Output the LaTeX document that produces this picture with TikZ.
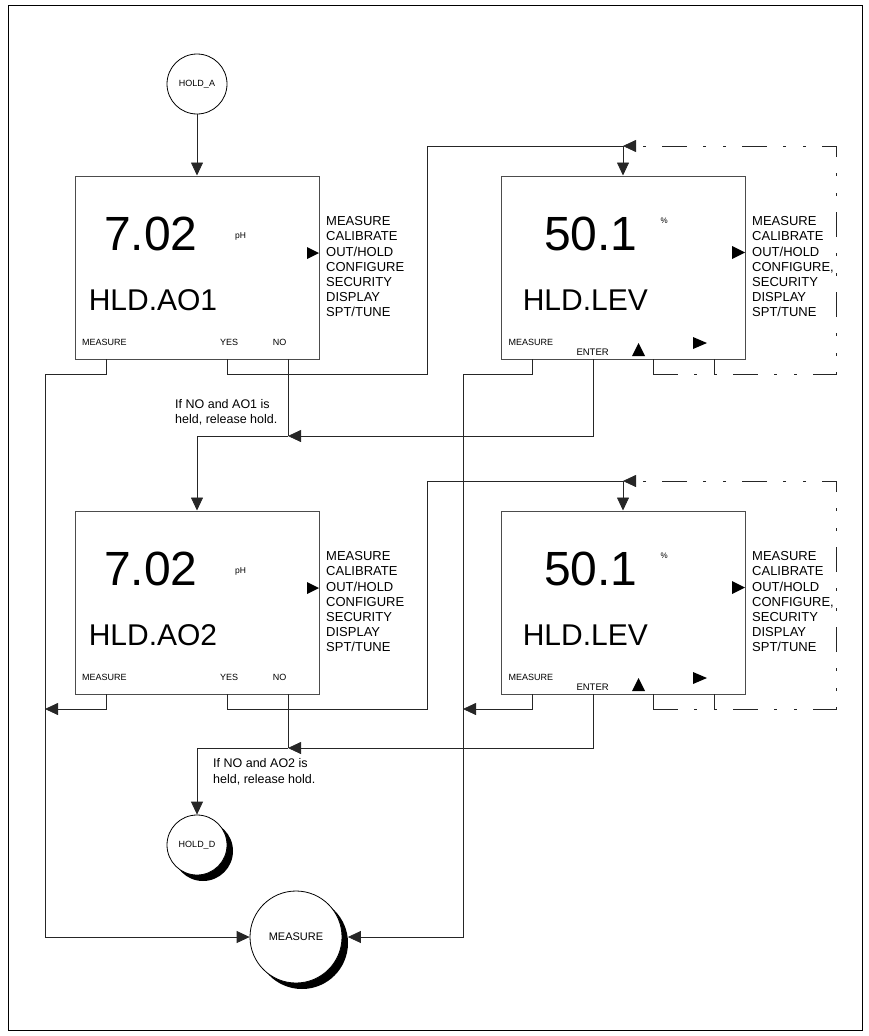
\documentclass[tikz,border=0pt]{standalone}
\usepackage{fontspec}
\setmainfont{Liberation Sans}
\usetikzlibrary{arrows.meta,shadows,calc}
\tikzset{
  screen/.style={draw=black!70,line width=1pt,minimum width=244,
                 minimum height=183,inner sep=0},
  term/.style={circle,draw=black,line width=0.8pt,fill=white,inner sep=0,
               font=\fontsize{9}{10}\selectfont},
  shadowed/.style={drop shadow={shadow xshift=6pt,shadow yshift=-6pt,
                   fill=black,opacity=1}},
  wire/.style={draw=black!85,line width=0.8pt},
  arr/.style={wire,-{Triangle[length=13pt,width=12pt]}},
  ret/.style={dash pattern=on 25pt off 16pt on 3pt off 17pt on 3pt off 16pt},
  pointer/.style={fill=black,draw=none},
}
\begin{document}
\begin{tikzpicture}[
    x=1pt,y=-1pt,
    txt/.style={inner sep=0,anchor=base west},
    bignum/.style={txt,font=\fontsize{48}{50}\selectfont},
    code/.style={txt,font=\fontsize{30}{32}\selectfont},
    menu/.style={txt,font=\fontsize{13}{15}\selectfont},
    softkey/.style={txt,font=\fontsize{9}{10}\selectfont},
    unit/.style={txt,font=\fontsize{8.5}{9}\selectfont},
    note/.style={txt,font=\fontsize{12.5}{15}\selectfont}
  ]
  \useasboundingbox (0,0) rectangle (869,1036);
  \draw[line width=0.8pt] (8,5) rectangle (862,1030);

  % two rows of screens
  \foreach \r/\dy/\ao in {1/0/AO1,2/335/AO2}{
    \node[screen] (ph\r) at (197,{267.5+\dy}) {};
    \node[screen] (lv\r) at (623,{267.5+\dy}) {};

    \node[bignum] (phv\r) at (104,{250+\dy}) {7.02};
    \node[unit] (phu\r) at (235,{238+\dy}) {pH};
    \node[code] (phc\r) at (88.6,{310+\dy}) {HLD.\ao};
    \fill[pointer] (307,{247+\dy}) -- (319,{253+\dy}) -- (307,{259+\dy}) -- cycle;
    \foreach \t [count=\i from 0] in {MEASURE,CALIBRATE,OUT/HOLD,CONFIGURE,SECURITY,DISPLAY,SPT/TUNE}
      \node[menu] (phm\r-\i) at (326,{225.7+15.17*\i+\dy}) {\t};
    \node[softkey] (phk\r-m) at (82,{345+\dy}) {MEASURE};
    \node[softkey] (phk\r-y) at (220,{345+\dy}) {YES};
    \node[softkey] (phk\r-n) at (272.6,{345+\dy}) {NO};

    \node[bignum] (lvv\r) at (544,{250+\dy}) {50.1};
    \node[unit,font=\fontsize{8}{9}\selectfont] (lvu\r) at (660.5,{223+\dy}) {\%};
    \node[code] (lvc\r) at (522.6,{310+\dy}) {HLD.LEV};
    \fill[pointer] (732,{246+\dy}) -- (745,{252.5+\dy}) -- (732,{259+\dy}) -- cycle;
    \foreach \t [count=\i from 0] in {MEASURE,CALIBRATE,OUT/HOLD,{CONFIGURE,},SECURITY,DISPLAY,SPT/TUNE}
      \node[menu] (lvm\r-\i) at (752,{225.7+15.17*\i+\dy}) {\t};
    \node[softkey] (lvk\r-m) at (508.3,{345+\dy}) {MEASURE};
    \node[softkey,font=\fontsize{9.5}{10}\selectfont] (lvk\r-e) at (576.3,{355+\dy}) {ENTER};
    \fill[pointer] (638.5,{343+\dy}) -- (645,{356+\dy}) -- (632,{356+\dy}) -- cycle;
    \fill[pointer] (693,{337+\dy}) -- (707,{343+\dy}) -- (693,{349+\dy}) -- cycle;

    % key drop points
    \coordinate (ph\r-m) at (106,{359+\dy});
    \coordinate (ph\r-y) at (227,{359+\dy});
    \coordinate (ph\r-n) at (288,{359+\dy});
    \coordinate (lv\r-m) at (532,{359+\dy});
    \coordinate (lv\r-e) at (593,{359+\dy});
    \coordinate (lv\r-u) at (653,{359+\dy});
    \coordinate (lv\r-r) at (714,{359+\dy});
    \coordinate (top\r) at (623,{146+\dy});

    \draw[wire] (ph\r-y) |- (427,{374+\dy}) |- (top\r);
    \draw[arr] (top\r) -- (lv\r.north);
    \draw[wire] (lv\r-r) -- ++(0,15);
    \draw[wire] (lv\r-u) -- ++(0,15) coordinate (rt\r);
    \draw[arr,ret] (rt\r) -| (836,{146+\dy}) -- (top\r);
  }

  \node[term,minimum size=60] (holda) at (197,84) {HOLD\_A};
  \node[term,shadowed,minimum size=60] (holdd) at (197,845) {HOLD\_D};
  \node[term,shadowed,minimum size=92,font=\fontsize{11}{12}\selectfont]
       (meas) at (296,937) {MEASURE};

  \draw[arr] (holda) -- (ph1);

  % NO / ENTER junctions
  \coordinate (jn1) at (288,436);
  \coordinate (jn2) at (288,748);
  \draw[wire] (ph1-n) -- (jn1);
  \draw[arr] (lv1-e) |- (jn1);
  \draw[arr] (jn1) -| (ph2.north);
  \draw[wire] (ph2-n) -- (jn2);
  \draw[arr] (lv2-e) |- (jn2);
  \draw[arr] (jn2) -| (holdd.north);

  \node[note] (nt1) at (175,408.5) {If NO and AO1 is};
  \node[note] (nt1b) at ([yshift=-15pt]nt1.base west) {held, release hold.};
  \node[note] (nt2) at (213,767.5) {If NO and AO2 is};
  \node[note] (nt2b) at ([yshift=-15.5pt]nt2.base west) {held, release hold.};

  % MEASURE buses
  \coordinate (busl) at (45,709);
  \coordinate (busm) at (463,709);
  \draw[arr] (ph1-m) |- (45,374) |- (meas.west);
  \draw[arr] (lv1-m) |- (463,374) |- ([xshift=5.5pt]meas.east);
  \draw[arr] (ph2-m) |- (busl);
  \draw[arr] (lv2-m) |- (busm);
\end{tikzpicture}
\end{document}
